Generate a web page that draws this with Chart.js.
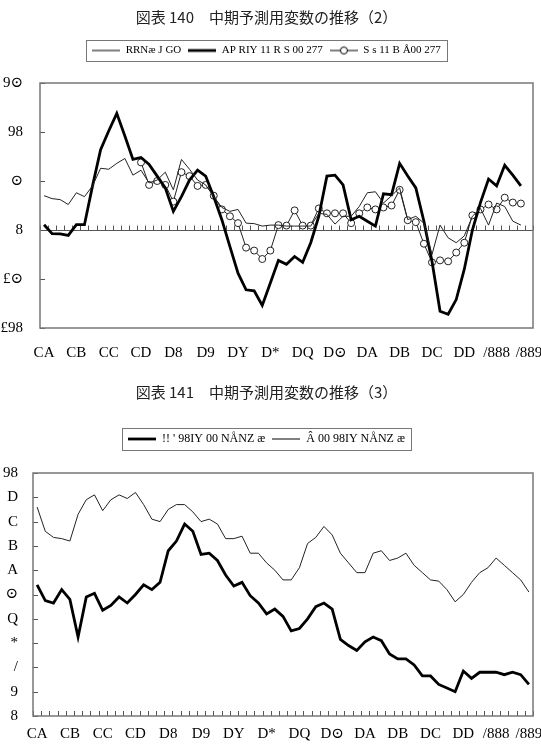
<!DOCTYPE html>
<html>
<head>
<meta charset="utf-8">
<script src="https://cdn.jsdelivr.net/npm/chart.js@4.4.1/dist/chart.umd.min.js"></script>
<style>
  body { margin: 0; background: #fff; width: 541px; height: 744px; overflow: hidden; }
  .box { position: absolute; left: 0; width: 541px; height: 372px; }
</style>
</head>
<body>
<div class="box" style="top:0"><canvas id="chart140"></canvas></div>
<div class="box" style="top:372px"><canvas id="chart141"></canvas></div>
<script>
// year labels, one every 4 quarters (61 quarters on the axis)
var yearLabels = ['CA', 'CB', 'CC', 'CD', 'D8', 'D9', 'DY', 'D*', 'DQ', 'D⊙', 'DA', 'DB', 'DC', 'DD', '/888', '/889'];
var quartersPerYear = 4;
var quarterCount = 61;

// chart 140
var title140 = '図表 140　中期予測用変数の推移（2）';
var names140 = ['RRNæ J GO', 'AP RIY 11 R S 00 277', 'S s 11 B Å00 277'];
var thin140 = [3.5, 3.2, 3.1, 2.6, 3.8, 3.4, 4.5, 6.3, 6.2, 6.8, 7.3, 5.6, 6.1, 4.8, 5.1, 5.9, 4.1, 7.2, 6.2, 5.1,
  4.6, 3.4, 2.3, 1.9, 2.1, 0.7, 0.65, 0.4, 0.5, 0.5, 0.4, 0.4, 0.4, 0.4, 1.7, 1.6, 0.6, 1.4, 1.4, 2.4,
  3.8, 3.9, 2.75, 3.5, 4.3, 1.05, 1.4, 0.7, -2.5, 0.5, -0.8, -1.3, -0.6, 1.4, 2.2, 0.5, 2.75, 2.4, 0.9, 0.5];
var thick140 = [0.54, -0.37, -0.4, -0.55, 0.54, 0.54, 4.5, 8.2, 10.1, 11.9, 9.6, 7.2, 7.4, 6.7, 5.5, 4.3, 1.9, 3.4, 5.1, 6.1,
  5.5, 3.4, 1.05, -1.7, -4.4, -6.1, -6.2, -7.7, -5.4, -3.1, -3.5, -2.7, -3.3, -1.3, 1.4, 5.5, 5.6, 4.6, 1.05, 1.4,
  0.9, 0.4, 3.7, 3.6, 6.8, 5.5, 4.3, 0.9, -3.2, -8.3, -8.6, -7.1, -4.0, 0.0, 2.8, 5.2, 4.5, 6.6, 5.6, 4.5];
var circles140 = [null, null, null, null, null, null, null, null, null, null, null, null,
  6.9, 4.6, 5.0, 4.6, 2.9, 5.9, 5.5, 4.5, 4.6, 3.5, 2.1, 1.4, 0.7, -1.8, -2.1, -2.96, -2.1, 0.5,
  0.45, 2.0, 0.45, 0.45, 2.2, 1.7, 1.7, 1.7, 0.7, 1.7, 2.3, 2.1, 2.3, 2.5, 4.1, 1.0, 0.8, -1.4, -3.3, -3.1,
  -3.2, -2.3, -1.3, 1.5, 2.1, 2.6, 2.1, 3.3, 2.8, 2.7];
var yValues140 = [-10, -5, 0, 5, 10, 15];
var yLabels140 = ['£98', '£⊙', '8', '⊙', '98', '9⊙'];

// chart 141
var title141 = '図表 141　中期予測用変数の推移（3）';
var names141 = ['!! \' 98IY 00 NÅNZ æ', 'Â 00 98IY NÅNZ æ'];
var thick141 = [5.4, 4.75, 4.65, 5.2, 4.8, 3.25, 4.9, 5.05, 4.35, 4.55, 4.9, 4.65, 5.0, 5.4, 5.2, 5.5, 6.8, 7.2, 7.9, 7.6,
  6.65, 6.7, 6.4, 5.8, 5.35, 5.5, 4.95, 4.65, 4.2, 4.4, 4.1, 3.5, 3.6, 4.0, 4.5, 4.65, 4.4, 3.15, 2.9, 2.7,
  3.05, 3.25, 3.1, 2.55, 2.35, 2.35, 2.1, 1.65, 1.65, 1.3, 1.15, 1.0, 1.85, 1.55, 1.8, 1.8, 1.8, 1.7, 1.8, 1.7, 1.3];
var thin141 = [8.6, 7.6, 7.35, 7.3, 7.2, 8.3, 8.9, 9.1, 8.45, 8.9, 9.1, 8.95, 9.2, 8.7, 8.1, 8.0, 8.5, 8.7, 8.7, 8.4,
  8.0, 8.1, 7.9, 7.3, 7.3, 7.4, 6.7, 6.7, 6.3, 6.0, 5.6, 5.6, 6.1, 7.1, 7.35, 7.8, 7.45, 6.7, 6.3, 5.9,
  5.9, 6.7, 6.8, 6.4, 6.5, 6.7, 6.2, 5.9, 5.6, 5.55, 5.2, 4.7, 5.0, 5.5, 5.9, 6.1, 6.5, 6.2, 5.9, 5.6, 5.1];
var yValues141 = [0, 1, 2, 3, 4, 5, 6, 7, 8, 9, 10];
var yLabels141 = ['8', '9', '/', '*', 'Q', '⊙', 'A', 'B', 'C', 'D', '98'];

var categories = [];
for (var i = 0; i < quarterCount; i++) {
  categories.push(i % quartersPerYear === 0 ? yearLabels[i / quartersPerYear] : '');
}

var serif = "'Liberation Serif', 'DejaVu Serif', serif";

// little line pictures for the legend
function legendSample(width, marker) {
  var c = document.createElement('canvas');
  c.width = 28; c.height = 10;
  var g = c.getContext('2d');
  g.strokeStyle = '#000';
  g.lineWidth = width;
  g.beginPath(); g.moveTo(0, 5); g.lineTo(28, 5); g.stroke();
  if (marker) {
    g.lineWidth = 1; g.fillStyle = '#fff';
    g.beginPath(); g.arc(14, 5, 3.5, 0, Math.PI * 2); g.fill(); g.stroke();
  }
  return c;
}

// zero line / tick marks / frame
var axisMarks = {
  id: 'axisMarks',
  beforeDatasetsDraw: function (chart, args, opts) {
    var a = chart.chartArea, xs = chart.scales.x, ys = chart.scales.y, g = chart.ctx;
    var half = (xs.getPixelForValue(1) - xs.getPixelForValue(0)) / 2;
    var baseY = opts.zeroLine ? Math.round(ys.getPixelForValue(0)) + 0.5 : a.bottom;
    g.save();
    g.strokeStyle = '#555';
    g.lineWidth = 1;
    g.beginPath();
    if (opts.zeroLine) { g.moveTo(a.left, baseY); g.lineTo(a.right, baseY); }
    for (var i = 0; i <= xs.ticks.length; i++) {
      var x = Math.round(xs.getPixelForValue(i) - half) + 0.5;
      g.moveTo(x, baseY); g.lineTo(x, baseY - 5);
    }
    ys.ticks.forEach(function (t) {
      var y = Math.round(ys.getPixelForValue(t.value)) + 0.5;
      g.moveTo(a.left, y); g.lineTo(a.left + 5, y);
    });
    g.stroke();
    g.restore();
  },
  afterDraw: function (chart) {
    var a = chart.chartArea, g = chart.ctx;
    g.save();
    g.strokeStyle = '#777';
    g.lineWidth = 1.5;
    g.strokeRect(a.left, a.top, a.right - a.left, a.bottom - a.top);
    // box round the legend
    var hb = chart.legend.legendHitBoxes;
    var l = Math.min.apply(null, hb.map(function (b) { return b.left; }));
    var r = Math.max.apply(null, hb.map(function (b) { return b.left + b.width; }));
    var t = hb[0].top, h = hb[0].height;
    g.lineWidth = 1;
    g.strokeRect(Math.round(l - 6) + 0.5, Math.round(t - 5) + 0.5, Math.round(r - l + 12), h + 10);
    g.restore();
  }
};

// fixes the legend height so the plot starts where it should
var legendGap = {
  id: 'legendGap',
  beforeInit: function (chart, args, opts) {
    var leg = chart.legend, fit = leg.fit;
    leg.fit = function () { fit.call(leg); leg.height = opts.height; };
  }
};

function makeOptions(o) {
  return {
    responsive: true,
    maintainAspectRatio: false,
    animation: false,
    layout: { padding: { left: 0, right: 8, top: 0, bottom: 0 } },
    elements: { line: { tension: 0 } },
    plugins: {
      title: {
        display: true,
        text: o.title,
        color: '#222',
        font: { family: "'Noto Sans CJK JP', sans-serif", size: 15, weight: 'normal' },
        padding: o.titlePadding
      },
      legend: {
        display: true,
        labels: {
          usePointStyle: true,
          pointStyleWidth: 28,
          padding: 7,
          color: '#000',
          font: { family: serif, size: o.legendFont },
          generateLabels: function (chart) {
            return chart.data.datasets.map(function (ds, i) {
              return { text: ds.label, pointStyle: ds.legendSample, datasetIndex: i, hidden: false, lineWidth: 0, fontColor: '#000' };
            });
          }
        }
      },
      tooltip: { enabled: false },
      legendGap: { height: o.legendHeight },
      axisMarks: { zeroLine: o.zeroLine }
    },
    scales: {
      x: {
        type: 'category',
        offset: true,
        grid: { display: false, drawTicks: false },
        border: { display: false },
        ticks: { autoSkip: false, maxRotation: 0, minRotation: 0, padding: o.xPad, color: '#000', font: { family: serif, size: 15 } },
        afterFit: function (s) { s.height = o.xHeight; s.paddingLeft = 0; s.paddingRight = 0; }
      },
      y: {
        min: o.yValues[0],
        max: o.yValues[o.yValues.length - 1],
        grid: { display: false, drawTicks: false },
        border: { display: false },
        ticks: {
          stepSize: o.yValues[1] - o.yValues[0],
          padding: o.yPad,
          color: '#000',
          font: { family: serif, size: 15 },
          callback: function (v) { return o.yLabels[o.yValues.indexOf(v)]; }
        },
        afterFit: function (s) { s.width = o.yWidth; }
      }
    }
  };
}

new Chart(document.getElementById('chart140'), {
  type: 'line',
  data: {
    labels: categories,
    datasets: [
      { label: names140[0], data: thin140, borderColor: '#222', borderWidth: 1, pointRadius: 0, legendSample: legendSample(1, false) },
      { label: names140[1], data: thick140, borderColor: '#000', borderWidth: 2.8, pointRadius: 0, legendSample: legendSample(2.8, false) },
      { label: names140[2], data: circles140, borderColor: '#222', borderWidth: 1, pointRadius: 3.5,
        pointBackgroundColor: '#fff', pointBorderColor: '#222', pointBorderWidth: 1, legendSample: legendSample(1, true) }
    ]
  },
  options: makeOptions({ title: title140, titlePadding: { top: 8, bottom: 12 }, legendHeight: 45, legendFont: 11, zeroLine: true,
    xPad: 16, xHeight: 44, yPad: 17, yWidth: 40, yValues: yValues140, yLabels: yLabels140 }),
  plugins: [legendGap, axisMarks]
});

new Chart(document.getElementById('chart141'), {
  type: 'line',
  data: {
    labels: categories,
    datasets: [
      { label: names141[0], data: thick141, borderColor: '#000', borderWidth: 2.8, pointRadius: 0, legendSample: legendSample(2.8, false) },
      { label: names141[1], data: thin141, borderColor: '#222', borderWidth: 1, pointRadius: 0, legendSample: legendSample(1, false) }
    ]
  },
  options: makeOptions({ title: title141, titlePadding: { top: 11, bottom: 25 }, legendHeight: 47, legendFont: 12, zeroLine: false,
    xPad: 9, xHeight: 28, yPad: 15, yWidth: 33, yValues: yValues141, yLabels: yLabels141 }),
  plugins: [legendGap, axisMarks]
});
</script>
</body>
</html>
